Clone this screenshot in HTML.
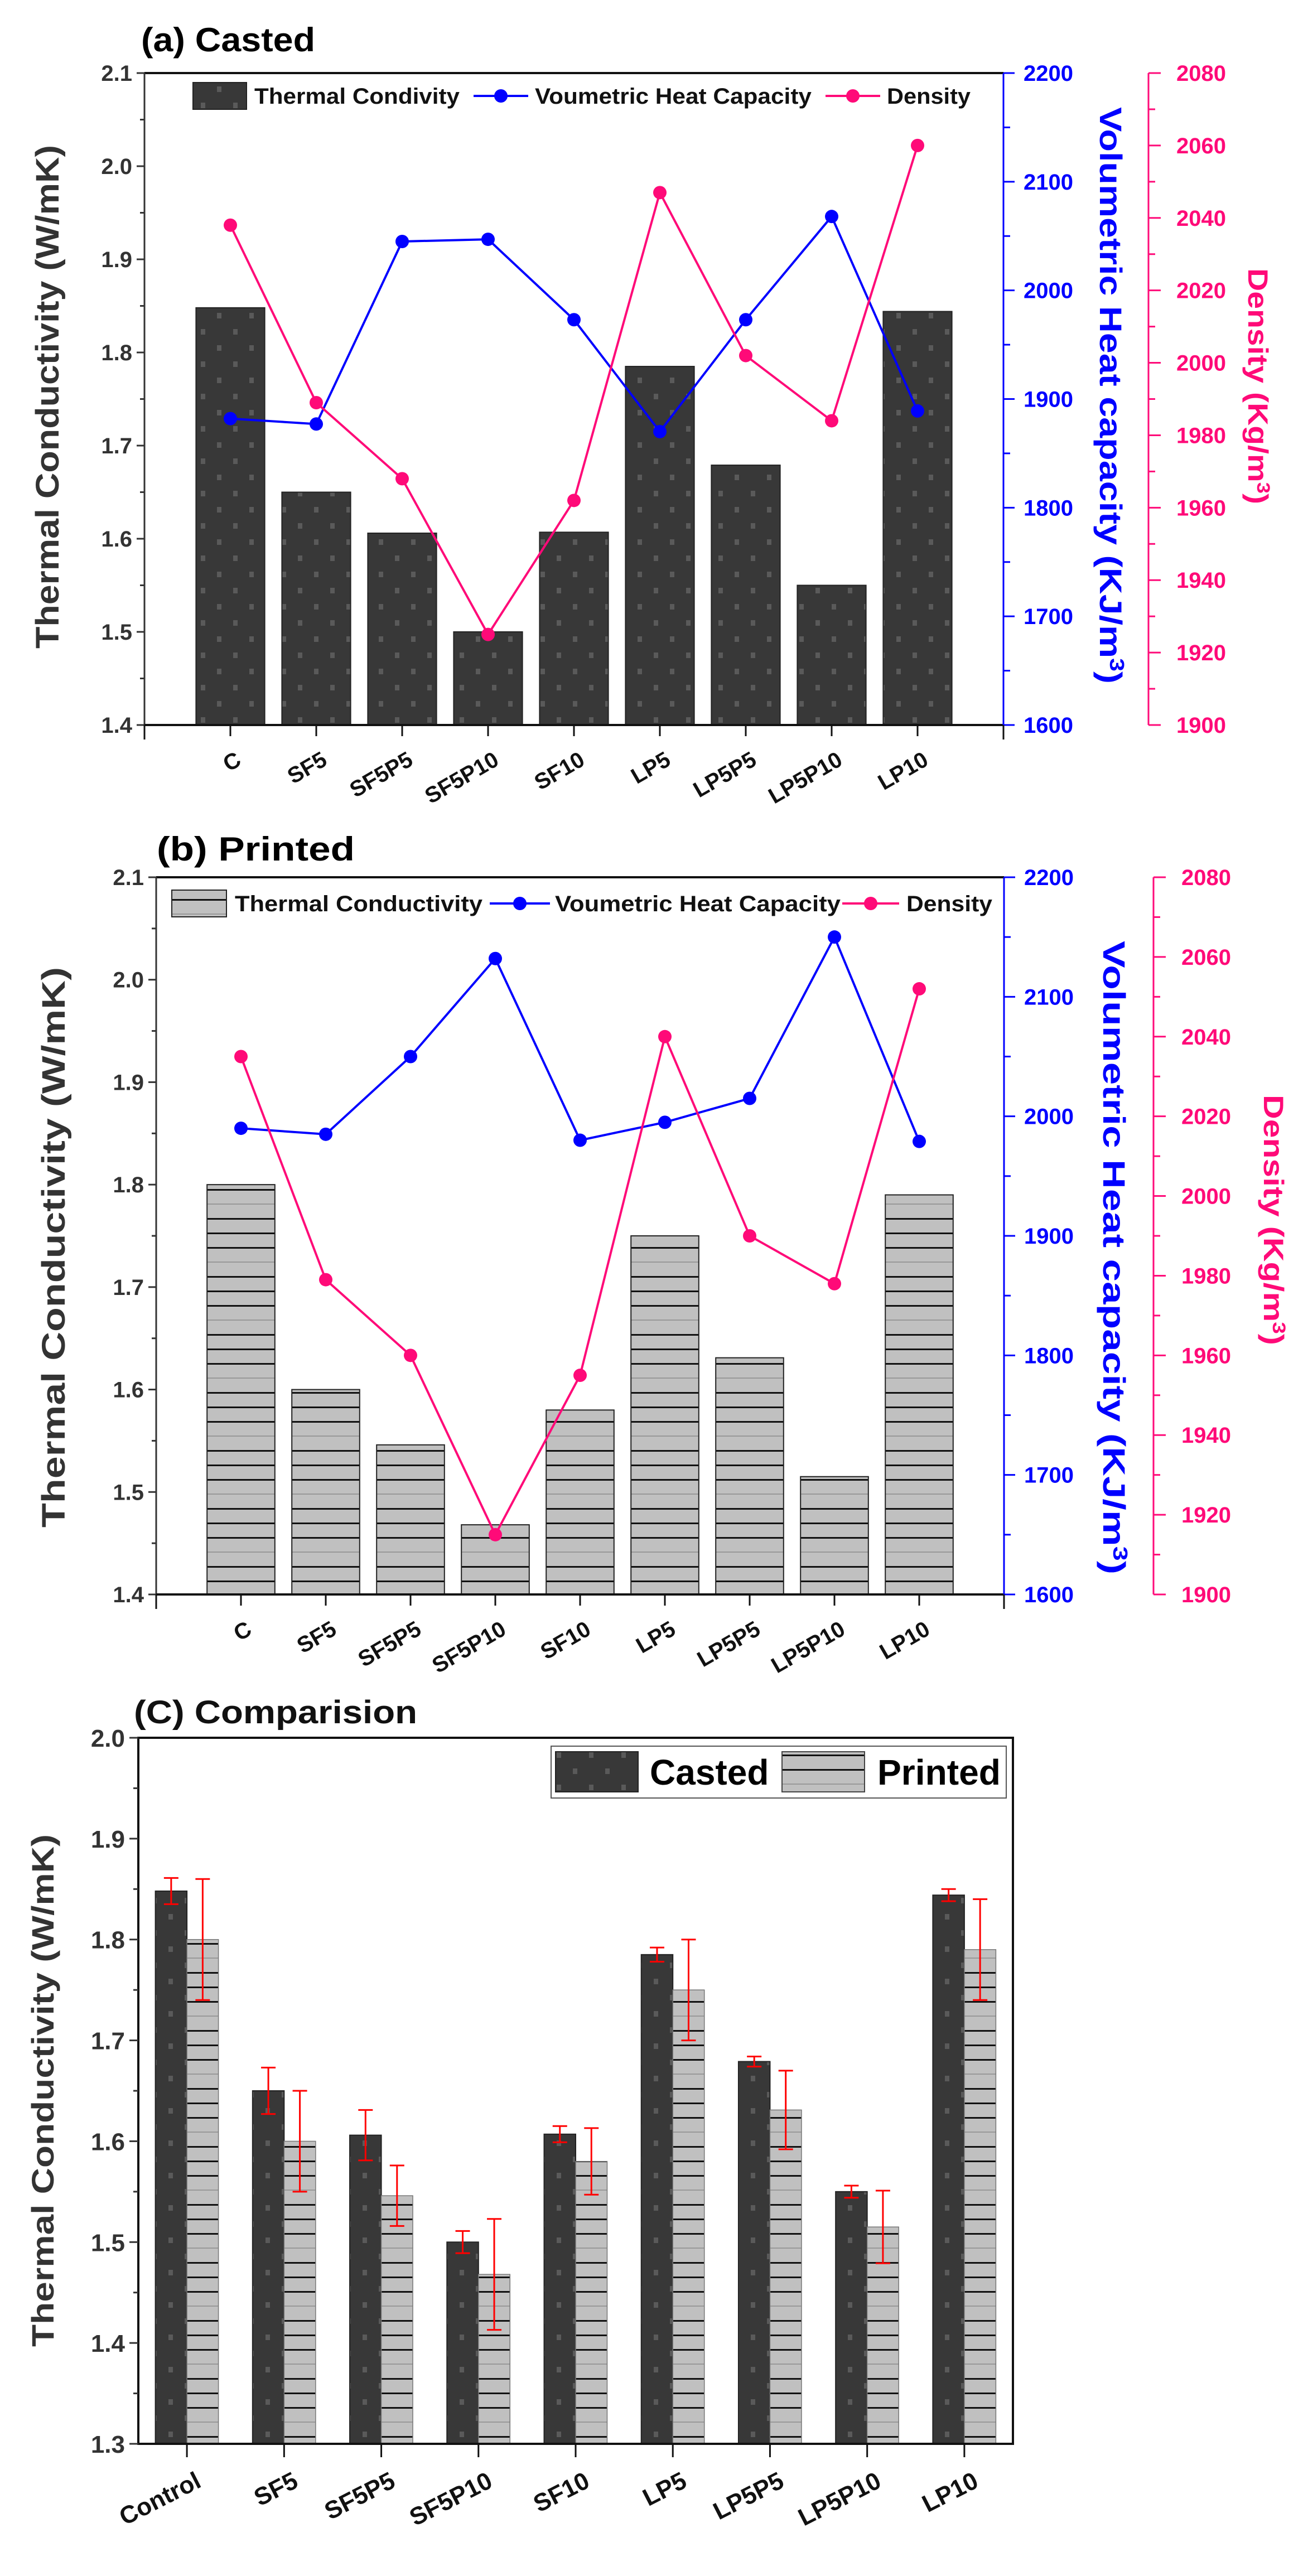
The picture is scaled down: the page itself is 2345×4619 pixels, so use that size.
<!DOCTYPE html>
<html><head><meta charset="utf-8">
<style>
html,body{margin:0;padding:0;background:#fff;}
svg{display:block;font-family:"Liberation Sans",Arial,sans-serif;font-weight:bold;}
</style></head>
<body>
<svg id="chart" width="2345" height="4619" viewBox="0 0 2345 4619" xmlns="http://www.w3.org/2000/svg">
<defs>
<pattern id="dots" patternUnits="userSpaceOnUse" width="58" height="58">
<rect width="58" height="58" fill="#383838"/>
<rect x="12" y="10" width="8" height="10" fill="#5a5a5a"/>
<rect x="41" y="39" width="8" height="10" fill="#5a5a5a"/>
</pattern>
<pattern id="lines" patternUnits="userSpaceOnUse" width="60" height="104">
<rect width="60" height="104" fill="#c0c0c0"/>
<rect y="0" width="60" height="3" fill="#111"/>
<rect y="26" width="60" height="3" fill="#111"/>
<rect y="52" width="60" height="3" fill="#111"/>
<rect y="78" width="60" height="2" fill="#999"/>
</pattern>
</defs>
</svg>
<script>
const cats=["C","SF5","SF5P5","SF5P10","SF10","LP5","LP5P5","LP5P10","LP10"];
const catsC=["Control","SF5","SF5P5","SF5P10","SF10","LP5","LP5P5","LP5P10","LP10"];
const castedTC=[1.848,1.650,1.606,1.500,1.607,1.785,1.679,1.550,1.844];
const castedVHC=[1882,1877,2045,2047,1973,1870,1973,2068,1889];
const castedDen=[2038,1989,1968,1925,1962,2047,2002,1984,2060];
const printedTC=[1.800,1.600,1.546,1.468,1.580,1.750,1.631,1.515,1.790];
const printedVHC=[1990,1985,2050,2132,1980,1995,2015,2150,1979];
const printedDen=[2035,1979,1960,1915,1955,2040,1990,1978,2052];
const castedErr=[0.013,0.023,0.025,0.011,0.008,0.007,0.005,0.006,0.006];
const printedErr=[0.060,0.050,0.030,0.055,0.033,0.050,0.039,0.036,0.050];
const tcTicksAB=["1.4","1.5","1.6","1.7","1.8","1.9","2.0","2.1"];
const vhcTicks=["1600","1700","1800","1900","2000","2100","2200"];
const denTicks=["1900","1920","1940","1960","1980","2000","2020","2040","2060","2080"];
const tcTicksC=["1.3","1.4","1.5","1.6","1.7","1.8","1.9","2.0"];

const svg=document.getElementById('chart');
const NS='http://www.w3.org/2000/svg';
function el(tag,attrs,parent,text){const e=document.createElementNS(NS,tag);for(const k in attrs)e.setAttribute(k,attrs[k]);if(text!==undefined)e.textContent=text;(parent||svg).appendChild(e);return e;}
function lin(d0,d1,r0,r1){return v=>r0+(v-d0)*(r1-r0)/(d1-d0);}

function dualPanel(cfg){
  const g=el('g',{});
  
  
  const {x0,x1,yT,yB}=cfg;
  const step=(x1-x0)/10;
  const cx=i=>x0+(i+1)*step;
  const yL=lin(1.4,2.1,yB,yT), yV=lin(1600,2200,yB,yT), yD=lin(1900,2080,yB,yT);
  // bars
  cfg.tc.forEach((v,i)=>{
    const r=el('rect',{x:cx(i)-step*0.4,y:yL(v),width:step*0.8,height:yB-yL(v),fill:cfg.fill,stroke:'#222','stroke-width':2},g);
    
    
  });
  // axes
  el('line',{x1:x0,y1:yT,x2:x1,y2:yT,stroke:'#111','stroke-width':4},g);
  el('line',{x1:x0,y1:yT,x2:x0,y2:yB,stroke:'#333','stroke-width':3},g);
  el('line',{x1:x0,y1:yB,x2:x1,y2:yB,stroke:'#111','stroke-width':4},g);
  el('line',{x1:x1,y1:yT,x2:x1,y2:yB,stroke:'#0000ff','stroke-width':3},g);
  const px=cfg.pinkX;
  el('line',{x1:px,y1:yT,x2:px,y2:yB,stroke:'#ff0a78','stroke-width':3},g);
  tcTicksAB.forEach((t,i)=>{const v=+t;const y=yL(v);
    el('line',{x1:x0-14,y1:y,x2:x0,y2:y,stroke:'#333','stroke-width':3},g);
    if(i<7)el('line',{x1:x0-8,y1:yL(v+0.05),x2:x0,y2:yL(v+0.05),stroke:'#333','stroke-width':3},g);
    const tx=el('text',{x:x0-22,y:y+14,'text-anchor':'end','font-size':40,fill:'#333'},g,t);
    
    
  });
  vhcTicks.forEach((t,i)=>{const v=+t;const y=yV(v);
    el('line',{x1:x1,y1:y,x2:x1+20,y2:y,stroke:'#0000ff','stroke-width':3},g);
    if(i<6)el('line',{x1:x1,y1:yV(v+50),x2:x1+12,y2:yV(v+50),stroke:'#0000ff','stroke-width':3},g);
    const tx=el('text',{x:x1+36,y:y+14,'font-size':40,fill:'#0000ff'},g,t);
    
    
  });
  denTicks.forEach((t,i)=>{const v=+t;const y=yD(v);
    el('line',{x1:px,y1:y,x2:px+22,y2:y,stroke:'#ff0a78','stroke-width':3},g);
    if(i<9)el('line',{x1:px,y1:yD(v+10),x2:px+12,y2:yD(v+10),stroke:'#ff0a78','stroke-width':3},g);
    const tx=el('text',{x:px+50,y:y+14,'font-size':40,fill:'#ff0a78'},g,t);
    
    
  });
  // x ticks and labels
  for(let i=0;i<=10;i++){el('line',{x1:x0+i*step,y1:yB,x2:x0+i*step,y2:yB+(i==0||i==10?26:20),stroke:'#111','stroke-width':3},g);}
  cats.forEach((c,i)=>{const x=cx(i)+22,y=yB+70;
    const tx=el('text',{x:x,y:y,'text-anchor':'end','font-size':40,fill:'#111',transform:`rotate(-30 ${x} ${y})`},g,c);
    
    
  });
  // lines
  const series=[[cfg.vhc,yV,'#0000ff','vhc'],[cfg.den,yD,'#ff0a78','density']];
  series.forEach(([arr,sc,col,nm])=>{
    const pts=arr.map((v,i)=>cx(i)+','+sc(v)).join(' ');
    const pl=el('polyline',{points:pts,fill:'none',stroke:col,'stroke-width':4},g);
    
    
    arr.forEach((v,i)=>{const c=el('circle',{cx:cx(i),cy:sc(v),r:12,fill:col},g);
      
      });
  });
  // titles
  const t=el('text',{x:cfg.titleX,y:cfg.titleY,'font-size':60,fill:'#000',textLength:cfg.titleLen,lengthAdjust:'spacingAndGlyphs'},g,cfg.title);
  
  
  const my=(cfg.yTitle[1]+cfg.yTitle[2])/2;
  const yt=el('text',{x:cfg.yTitle[0],y:my,'text-anchor':'middle','font-size':58,fill:'#333',textLength:cfg.yTitle[2]-cfg.yTitle[1],lengthAdjust:'spacingAndGlyphs',transform:`rotate(-90 ${cfg.yTitle[0]} ${my})`},g,'Thermal Conductivity (W/mK)');
  
  
  const by=(cfg.bTitle[1]+cfg.bTitle[2])/2;
  const bt=el('text',{x:cfg.bTitle[0],y:by,'text-anchor':'middle','font-size':56,fill:'#0000ff',textLength:cfg.bTitle[2]-cfg.bTitle[1],lengthAdjust:'spacingAndGlyphs',transform:`rotate(90 ${cfg.bTitle[0]} ${by})`},g);
  
  
  bt.innerHTML='Volumetric Heat capacity (KJ/m<tspan dy="-18" font-size="36">3</tspan><tspan dy="18">)</tspan>';
  const dy=(cfg.dTitle[1]+cfg.dTitle[2])/2;
  const dt=el('text',{x:cfg.dTitle[0],y:dy,'text-anchor':'middle','font-size':50,fill:'#ff0a78',textLength:cfg.dTitle[2]-cfg.dTitle[1],lengthAdjust:'spacingAndGlyphs',transform:`rotate(90 ${cfg.dTitle[0]} ${dy})`},g);
  
  
  dt.innerHTML='Density (Kg/m<tspan dy="-16" font-size="32">3</tspan><tspan dy="16">)</tspan>';
  // legend
  const L=cfg.leg, ly=L.y;
  const lr=el('rect',{x:L.r[0],y:ly-24,width:L.r[1]-L.r[0],height:48,fill:cfg.fill,stroke:'#222','stroke-width':2},g);
  
  
  el('text',{x:L.t1[0],y:ly+14,'font-size':40,fill:'#111',textLength:L.t1[1],lengthAdjust:'spacingAndGlyphs'},g,cfg.tcName);
  el('line',{x1:L.b[0],y1:ly,x2:L.b[1],y2:ly,stroke:'#0000ff','stroke-width':4},g);
  el('circle',{cx:(L.b[0]+L.b[1])/2,cy:ly,r:12,fill:'#0000ff'},g);
  el('text',{x:L.t2[0],y:ly+14,'font-size':40,fill:'#111',textLength:L.t2[1],lengthAdjust:'spacingAndGlyphs'},g,'Voumetric Heat Capacity');
  el('line',{x1:L.p[0],y1:ly,x2:L.p[1],y2:ly,stroke:'#ff0a78','stroke-width':4},g);
  el('circle',{cx:(L.p[0]+L.p[1])/2,cy:ly,r:12,fill:'#ff0a78'},g);
  el('text',{x:L.t3[0],y:ly+14,'font-size':40,fill:'#111',textLength:L.t3[1],lengthAdjust:'spacingAndGlyphs'},g,'Density');
}

dualPanel({name:'panel-a-casted',x0:259,x1:1799,yT:131,yB:1300,pinkX:2059,fill:'url(#dots)',
  tc:castedTC,vhc:castedVHC,den:castedDen,title:'(a) Casted',titleX:253,titleY:92,titleLen:312,
  yTitle:[105,260,1163],bTitle:[1972,192,1226],dTitle:[2238,481,904],tcName:'Thermal Condivity',
  leg:{y:172,r:[346,442],t1:[456,368],b:[849,947],t2:[959,496],p:[1480,1578],t3:[1590,150]}});
dualPanel({name:'panel-b-printed',x0:280,x1:1800,yT:1573,yB:2859,pinkX:2068,fill:'url(#lines)',
  tc:printedTC,vhc:printedVHC,den:printedDen,title:'(b) Printed',titleX:281,titleY:1543,titleLen:355,
  yTitle:[116,1734,2739],bTitle:[1978,1687,2823],dTitle:[2266,1963,2412],tcName:'Thermal Conductivity',
  leg:{y:1620,r:[308,406],t1:[421,444],b:[878,986],t2:[995,512],p:[1510,1612],t3:[1625,154]}});

// Panel C
(function(){
  const g=el('g',{});
  
  
  const x0=248,x1=1816,yT=3116,yB=4382;
  const step=(x1-x0)/9, bw=56.5;
  const cx=i=>x0+(i+0.5)*step;
  const y=lin(1.3,2.0,yB,yT);
  catsC.forEach((c,i)=>{
    const r1=el('rect',{x:cx(i)-bw,y:y(castedTC[i]),width:bw,height:yB-y(castedTC[i]),fill:'url(#dots)',stroke:'#222','stroke-width':2},g);
    
    
    const r2=el('rect',{x:cx(i),y:y(printedTC[i]),width:bw,height:yB-y(printedTC[i]),fill:'url(#lines)',stroke:'#777','stroke-width':1.5},g);
    
    
    [[castedTC,castedErr,cx(i)-bw/2,'casted'],[printedTC,printedErr,cx(i)+bw/2,'printed']].forEach(([v,e,x,nm])=>{
      const eb=el('g',{},g);
      
      
      const hi=y(v[i]+e[i]),lo=y(v[i]-e[i]);
      el('line',{x1:x,y1:hi,x2:x,y2:lo,stroke:'#ff0000','stroke-width':3},eb);
      el('line',{x1:x-13,y1:hi,x2:x+13,y2:hi,stroke:'#ff0000','stroke-width':3},eb);
      el('line',{x1:x-13,y1:lo,x2:x+13,y2:lo,stroke:'#ff0000','stroke-width':3},eb);
    });
  });
  el('rect',{x:x0,y:yT,width:x1-x0,height:yB-yT,fill:'none',stroke:'#111','stroke-width':4},g);
  tcTicksC.forEach((t,i)=>{const v=+t,yy=y(v);
    el('line',{x1:x0-16,y1:yy,x2:x0,y2:yy,stroke:'#333','stroke-width':3},g);
    if(i<7)el('line',{x1:x0-9,y1:y(v+0.05),x2:x0,y2:y(v+0.05),stroke:'#333','stroke-width':3},g);
    const tx=el('text',{x:x0-24,y:yy+16,'text-anchor':'end','font-size':44,fill:'#333'},g,t);
    
    
  });
  catsC.forEach((c,i)=>{
    el('line',{x1:cx(i),y1:yB,x2:cx(i),y2:yB+24,stroke:'#111','stroke-width':3},g);
    const x=cx(i)+28,yy=yB+76;
    const tx=el('text',{x:x,y:yy,'text-anchor':'end','font-size':44,fill:'#111',transform:`rotate(-27 ${x} ${yy})`},g,c);
    
    
  });
  const t=el('text',{x:240,y:3090,'font-size':58,fill:'#111',textLength:508,lengthAdjust:'spacingAndGlyphs'},g,'(C) Comparision');
  
  
  const my=(3289+4208)/2;
  const yt=el('text',{x:96,y:my,'text-anchor':'middle','font-size':56,fill:'#333',textLength:919,lengthAdjust:'spacingAndGlyphs',transform:`rotate(-90 96 ${my})`},g,'Thermal Conductivity (W/mK)');
  
  
  const lg=el('g',{},g);
  
  
  el('rect',{x:988,y:3131,width:816,height:93,fill:'#fff',stroke:'#555','stroke-width':2},lg);
  el('rect',{x:996,y:3141,width:148,height:72,fill:'url(#dots)',stroke:'#222','stroke-width':2},lg);
  el('text',{x:1165,y:3200,'font-size':64,fill:'#000'},lg,'Casted');
  el('rect',{x:1402,y:3141,width:148,height:72,fill:'url(#lines)',stroke:'#444','stroke-width':2},lg);
  el('text',{x:1573,y:3200,'font-size':64,fill:'#000',textLength:221,lengthAdjust:'spacingAndGlyphs'},lg,'Printed');
})();
</script>
</body></html>
